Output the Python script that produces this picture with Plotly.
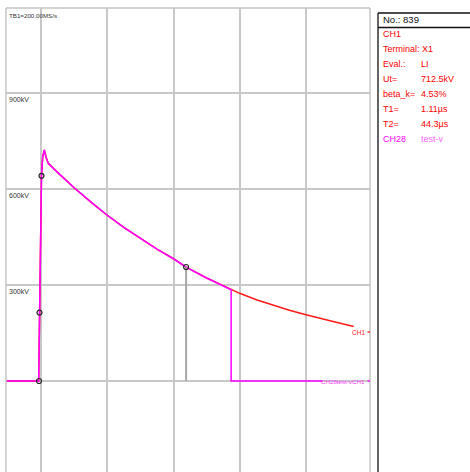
import plotly.graph_objects as go

W, H = 470, 472

# CH1 impulse record: time in microseconds, voltage in kV
time_us = [-10.5, -0.7, -0.5, -0.3, 0.15, 0.5, 1.0, 1.5, 2.2, 5, 10, 15, 20, 25, 30,
           35, 40, 43.8, 50, 57.4, 60, 65, 70, 75, 80, 85, 90, 94.4]
ch1_kv = [0, 0, 150, 300, 641, 700, 722, 700, 680, 652, 604, 560, 518, 480, 445,
          412, 382, 356, 322, 285, 274, 254, 237, 221, 207, 193, 181, 170]

# CH28 test-voltage trace: follows CH1 up to the cut, then sits at zero
cut_time_us = 57.4
testv_end_us = 85.0

# evaluation points (0 %, 30 %, 90 % of Ut on the front, 50 % on the tail)
ut_kv = 712.5
eval_time_us = [-0.6, -0.45, 0.15, 43.8]
eval_frac = [0.0, 0.30, 0.90, 0.50]

y_ticks_kv = [300, 600, 900]

# (label, value, label colour, value colour); value None means one running string
info_rows = [
    ("CH1", "", "#ff0000", "#ff0000"),
    ("Terminal: X1", None, "#ff0000", "#ff0000"),
    ("Eval.:", "LI", "#ff0000", "#ff0000"),
    ("Ut=", "712.5kV", "#ff0000", "#ff0000"),
    ("beta_k=", "4.53%", "#ff0000", "#ff0000"),
    ("T1=", "1.11µs", "#ff0000", "#ff0000"),
    ("T2=", "44.3µs", "#ff0000", "#ff0000"),
    ("CH28", "test-v", "#ff00ff", "#ff66ff"),
]

# pixel geometry of the scope area
PX_LEFT, PX_RIGHT, PX_TOP = 6, 370, 8
PX_PER_US = 66.25 / 20.0
PX_T0 = 41
PX_PER_KV = 96 / 300.0
PX_V0 = 381

x_range = [(PX_LEFT - PX_T0) / PX_PER_US, (PX_RIGHT - PX_T0) / PX_PER_US]
y_range = [-(H - PX_V0) / PX_PER_KV, (PX_V0 - PX_TOP) / PX_PER_KV]

tv_t = [t for t in time_us if t <= cut_time_us]
tv_v = [v for t, v in zip(time_us, ch1_kv) if t <= cut_time_us]
tv_t += [cut_time_us, testv_end_us]
tv_v += [0, 0]

fig = go.Figure()

fig.add_trace(go.Scatter(x=time_us, y=ch1_kv, mode="lines",
                         line=dict(color="#ff1a1a", width=1.5), hoverinfo="skip"))
fig.add_trace(go.Scatter(x=tv_t, y=tv_v, mode="lines",
                         line=dict(color="#ff00ff", width=1.5), hoverinfo="skip"))
# T2 marker drop line
fig.add_trace(go.Scatter(x=[eval_time_us[3], eval_time_us[3]], y=[ut_kv * eval_frac[3], 0],
                         mode="lines", line=dict(color="#a8a8a8", width=2), hoverinfo="skip"))
fig.add_trace(go.Scatter(x=eval_time_us, y=[ut_kv * f for f in eval_frac], mode="markers",
                         marker=dict(symbol="circle-open", size=5, color="#222222",
                                     line=dict(width=1.2)), hoverinfo="skip"))

def px(x):
    return x / W

def py(y):
    return 1 - y / H

shapes = []
# scope frame (left, top, right)
for x0, y0, x1, y1 in [(PX_LEFT, PX_TOP, PX_LEFT, H), (PX_LEFT, PX_TOP, PX_RIGHT, PX_TOP),
                       (PX_RIGHT, PX_TOP, PX_RIGHT, H)]:
    shapes.append(dict(type="line", xref="paper", yref="paper", x0=px(x0), y0=py(y0),
                       x1=px(x1), y1=py(y1), line=dict(color="#c4c4c4", width=1.5)))
# info panel border
for x0, y0, x1, y1 in [(378, 13, 378, H), (378, 13, W, 13), (378, 27.5, W, 27.5)]:
    shapes.append(dict(type="line", xref="paper", yref="paper", x0=px(x0), y0=py(y0),
                       x1=px(x1), y1=py(y1), line=dict(color="#111111", width=1.3)))
# short end ticks after the trace labels
shapes.append(dict(type="line", xref="paper", yref="paper", x0=px(367.5), y0=py(332),
                   x1=px(370), y1=py(332), line=dict(color="#ff1a1a", width=1.3)))
shapes.append(dict(type="line", xref="paper", yref="paper", x0=px(367.5), y0=py(381),
                   x1=px(370), y1=py(381), line=dict(color="#ff00ff", width=1.3)))

sans = "Liberation Sans, Arial"

ann = []
ann.append(dict(xref="paper", yref="paper", x=px(7), y=py(10), text="TB1=200.00MS/s",
                showarrow=False, xanchor="left", yanchor="top",
                font=dict(family=sans, size=6.2, color="#333333")))
for v in y_ticks_kv:
    ann.append(dict(xref="paper", yref="y", x=px(6.5), y=v, text=f"{v}kV", showarrow=False,
                    xanchor="left", yanchor="top", yshift=-1,
                    font=dict(family=sans, size=7, color="#333333")))
ann.append(dict(xref="paper", yref="paper", x=px(366.5), y=py(332), text="CH1",
                showarrow=False, xanchor="right", yanchor="middle",
                font=dict(family=sans, size=6.5, color="#ff1a1a")))
ann.append(dict(xref="paper", yref="paper", x=px(367), y=py(381), text="CH28test-vCH1",
                showarrow=False, xanchor="right", yanchor="middle",
                font=dict(family=sans, size=6.2, color="#ff33ff")))

ann.append(dict(xref="paper", yref="paper", x=px(381), y=py(19.5), text="No.: 839",
                showarrow=False, xanchor="left", yanchor="middle",
                font=dict(family=sans, size=9.5, color="#111111")))
for i, (label, value, c1, c2) in enumerate(info_rows):
    yy = py(34 + 15 * i)
    ann.append(dict(xref="paper", yref="paper", x=px(381), y=yy, text=label, showarrow=False,
                    xanchor="left", yanchor="middle",
                    font=dict(family=sans, size=9, color=c1)))
    if value:
        ann.append(dict(xref="paper", yref="paper", x=px(419), y=yy, text=value,
                        showarrow=False, xanchor="left", yanchor="middle",
                        font=dict(family=sans, size=9, color=c2)))

fig.update_layout(
    width=W, height=H, margin=dict(l=0, r=0, t=0, b=0),
    paper_bgcolor="white", plot_bgcolor="rgba(0,0,0,0)", showlegend=False,
    xaxis=dict(domain=[px(PX_LEFT), px(PX_RIGHT)], range=x_range, tick0=0, dtick=20,
               showgrid=True, gridcolor="#c8c8c8", gridwidth=1.5, zeroline=False,
               showticklabels=False, ticks="", fixedrange=True),
    yaxis=dict(domain=[0, py(PX_TOP)], range=y_range, tick0=0, dtick=300,
               showgrid=True, gridcolor="#c8c8c8", gridwidth=1.5, zeroline=False,
               showticklabels=False, ticks="", fixedrange=True),
    shapes=shapes, annotations=ann,
)

fig.write_html("out.html")
